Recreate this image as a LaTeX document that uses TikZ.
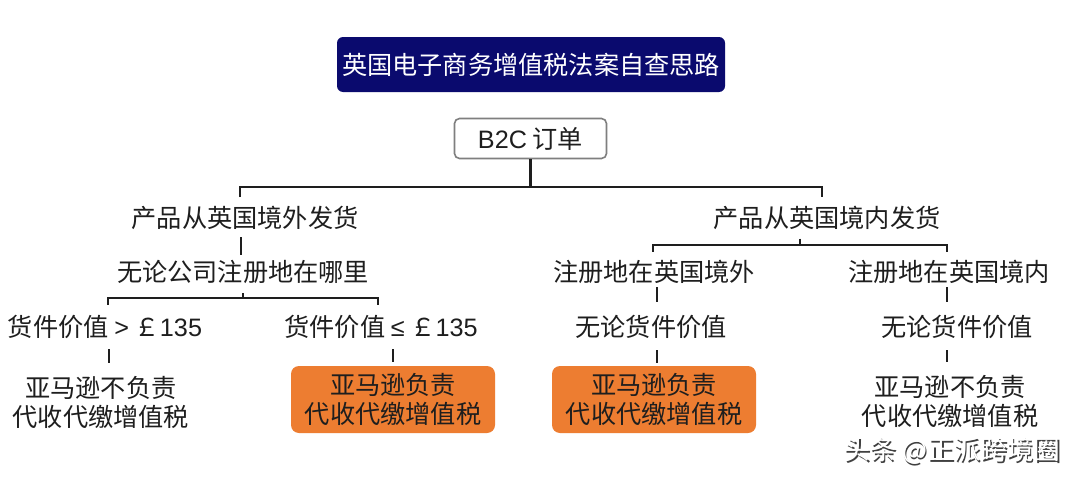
\documentclass[tikz,border=0pt]{standalone}
\usepackage{fontspec}
\setmainfont{Noto Sans CJK SC}
\newfontfamily\latf{Liberation Sans}
\definecolor{navy}{HTML}{0A0A6E}
\definecolor{orng}{HTML}{ED7D31}
\definecolor{txt}{HTML}{1E1E1E}
\definecolor{boxgray}{HTML}{7F7F7F}
\tikzset{
  bigf/.style={font=\fontsize{25.2}{29}\selectfont},
  lbl/.style={inner sep=0pt, text height=22pt, text depth=3pt, bigf, text=txt},
  twoline/.style={inner sep=0pt, bigf, text=txt, align=center},
  hot/.style={twoline, fill=orng, rounded corners=8pt, minimum width=204pt, minimum height=67pt},
  conn/.style={line width=2.3pt, draw=txt},
}
\begin{document}
\begin{tikzpicture}[x=1pt,y=-1pt]
\useasboundingbox[fill=white] (0,0) rectangle (1080,479);
% title
\node[fill=navy, rounded corners=6pt, minimum width=388pt, minimum height=55pt, inner sep=0pt,
      text=white, bigf] (title) at (531,64.5) {英国电子商务增值税法案自查思路};
\node[draw=boxgray, line width=1.6pt, rounded corners=5pt, minimum width=152pt, minimum height=40pt,
      inner sep=0pt, text=txt, bigf] (b2c) at (530.5,138.5) {{\latf B2C} 订单};
% level 1
\node[lbl] (L1) at (245,218) {产品从英国境外发货};
\node[lbl] (R1) at (827,218) {产品从英国境内发货};
% left branch
\node[lbl] (L2) at (243,272) {无论公司注册地在哪里};
\node[lbl] (L3a) at (105,327) {货件价值 {\latf >} ￡{\latf 135}};
\node[lbl] (L3b) at (381,327) {货件价值 {\latf ≤} ￡{\latf 135}};
\node[twoline] (L4a) at (101,402) {亚马逊不负责\\代收代缴增值税};
\node[hot] (L4b) at (393,399.5) {亚马逊负责\\代收代缴增值税};
% right branch
\node[lbl] (R2a) at (654,272) {注册地在英国境外};
\node[lbl] (R2b) at (949,272) {注册地在英国境内};
\node[lbl] (R3a) at (651,327) {无论货件价值};
\node[lbl] (R3b) at (957,327) {无论货件价值};
\node[hot] (R4a) at (654,399.5) {亚马逊负责\\代收代缴增值税};
\node[twoline] (R4b) at (950,401) {亚马逊不负责\\代收代缴增值税};
% watermark
\node[inner sep=0pt, font=\fontsize{26.5}{30}\selectfont, text=black!75] at (953.3,452.3) {头条 @正派跨境圈};
\node[inner sep=0pt, font=\fontsize{26.5}{30}\selectfont, text=white] (wm) at (952,451) {头条 @正派跨境圈};
% connectors
\coordinate (jl) at (240,187);
\coordinate (jr) at (822,187);
\draw[conn] (b2c.south) -- (b2c.south |- jl);
\draw[conn] ([yshift=-10]jl) -- (jl) -- (jr) -- ([yshift=-10]jr);
\draw[conn] ([xshift=-4,yshift=-6.5]L1.south) -- ([xshift=-2,yshift=4.5]L2.north);
% left bracket
\coordinate (bl) at (243,298);
\draw[conn] ([yshift=-8.5]L2.south) -- (bl);
\draw[conn] ([xshift=3,yshift=9.5]L3a.north) |- (bl) -| ([xshift=-3,yshift=9.5]L3b.north);
\draw[conn] ([xshift=4,yshift=-9.5]L3a.south) -- ([xshift=8,yshift=13]L4a.north);
\draw[conn] ([xshift=12,yshift=-9.5]L3b.south) -- ([yshift=4]L4b.north);
% right bracket
\coordinate (br) at (800,245);
\draw[conn] ([xshift=-27,yshift=-8]R1.south) -- (br);
\draw[conn] ([xshift=-1,yshift=7.5]R2a.north) |- (br) -| ([xshift=-2,yshift=7.5]R2b.north);
\draw[conn] ([xshift=3,yshift=-2.5]R2a.south) -- ([xshift=6,yshift=12.5]R3a.north);
\draw[conn] ([xshift=-2,yshift=-2.5]R2b.south) -- ([xshift=-10,yshift=12.5]R3b.north);
\draw[conn] ([xshift=6,yshift=-10.5]R3a.south) -- ([xshift=3,yshift=3]R4a.north);
\draw[conn] ([xshift=-10,yshift=-10.5]R3b.south) -- ([xshift=-3,yshift=13]R4b.north);
\end{tikzpicture}
\end{document}
